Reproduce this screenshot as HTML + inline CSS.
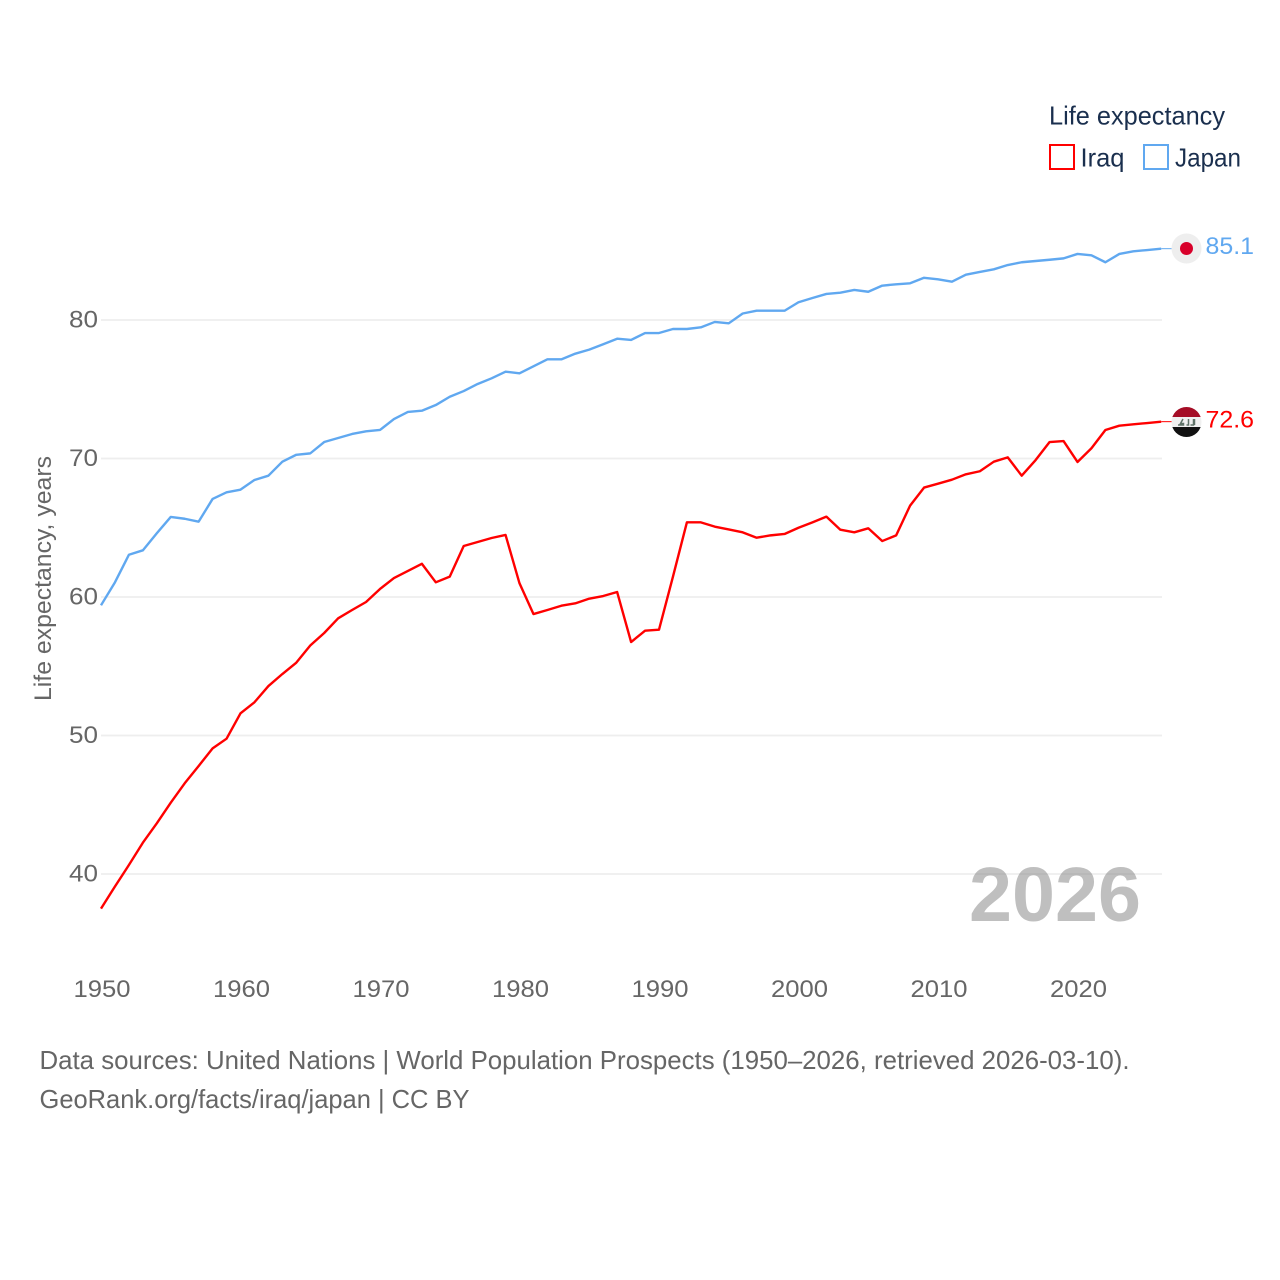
<!DOCTYPE html>
<html lang="en">
<head>
<meta charset="utf-8">
<title>Life expectancy: Iraq and Japan</title>
<style>
html,body{margin:0;padding:0;background:#fff;}
svg{display:block;}
text{font-family:"Liberation Sans","DejaVu Sans",sans-serif;}
</style>
</head>
<body>
<svg id="chart" xmlns="http://www.w3.org/2000/svg" width="1280" height="1280" viewBox="0 0 1280 1280">
<rect width="1280" height="1280" fill="#fff"/>
<g id="grid"></g>
<g id="yticks"></g>
<g id="xticks"></g>
<text transform="translate(51,701) rotate(-90)" font-size="24" fill="#666" textLength="245" lengthAdjust="spacingAndGlyphs">Life expectancy, years</text>
<text x="969" y="921" font-size="77" font-weight="700" fill="#808080" fill-opacity="0.5" textLength="172" lengthAdjust="spacingAndGlyphs">2026</text>
<g id="series"></g>
<g id="ends"></g>
<defs>
<clipPath id="iraq-clip"><circle cx="1186.5" cy="422" r="15"/></clipPath>
</defs>
<g>
<circle cx="1186.5" cy="248.5" r="15" fill="#eeeeee"/>
<circle cx="1186.5" cy="248.5" r="6.5" fill="#d8002a"/>
</g>
<g clip-path="url(#iraq-clip)">
<rect x="1171" y="406" width="31" height="11" fill="#a50d26"/>
<rect x="1171" y="417" width="31" height="10" fill="#f0f0f0"/>
<rect x="1171" y="427" width="31" height="11" fill="#111"/>
<path d="M1178 425h5.500v-1.500h-3l2.500-4.500M1186.500 425h2v-6M1190.500 425h3v-6M1194.500 425v-6" fill="none" stroke="#5f7268" stroke-width="1.500"/>
</g>
<g>
<text x="1049" y="124.500" font-size="26" fill="#1a2f4e" textLength="176" lengthAdjust="spacingAndGlyphs">Life expectancy</text>
<g>
<rect x="1050" y="145" width="24" height="24" fill="none" stroke="#ff0000" stroke-width="2"/>
<text x="1080.500" y="166.500" font-size="26" fill="#1a2f4e" textLength="44" lengthAdjust="spacingAndGlyphs">Iraq</text>
</g>
<g>
<rect x="1144" y="145" width="24" height="24" fill="none" stroke="#60a8f0" stroke-width="2"/>
<text x="1175" y="166.500" font-size="26" fill="#1a2f4e" textLength="66" lengthAdjust="spacingAndGlyphs">Japan</text>
</g>
</g>
<text x="39.500" y="1069" font-size="26" fill="#666" textLength="1090" lengthAdjust="spacingAndGlyphs">Data sources: United Nations | World Population Prospects (1950–2026, retrieved 2026-03-10).</text>
<text x="39.500" y="1108" font-size="26" fill="#666" textLength="430" lengthAdjust="spacingAndGlyphs">GeoRank.org/facts/iraq/japan | CC BY</text>
</svg>
<script>
const startYear = 1950;
const yTickValues = [40, 50, 60, 70, 80];
const xTickValues = [1950, 1960, 1970, 1980, 1990, 2000, 2010, 2020];
const iraqValues = [37.5,39.1,40.65,42.26,43.66,45.15,46.55,47.8,49.07,49.77,51.6,52.4,53.57,54.44,55.26,56.5,57.4,58.46,59.06,59.64,60.58,61.37,61.88,62.4,61.06,61.47,63.68,63.97,64.26,64.48,60.99,58.77,59.06,59.37,59.54,59.88,60.07,60.36,56.75,57.57,57.64,61.47,65.39,65.39,65.08,64.88,64.67,64.28,64.45,64.55,65.0,65.39,65.8,64.86,64.67,64.96,64.04,64.45,66.6,67.9,68.18,68.47,68.86,69.08,69.77,70.08,68.76,69.89,71.19,71.26,69.75,70.74,72.06,72.37,72.47,72.56,72.66];
const japanValues = [59.4,61.06,63.05,63.37,64.6,65.78,65.65,65.44,67.08,67.56,67.75,68.45,68.76,69.77,70.27,70.37,71.19,71.48,71.77,71.96,72.06,72.85,73.36,73.45,73.86,74.46,74.87,75.38,75.79,76.27,76.15,76.66,77.16,77.16,77.57,77.86,78.25,78.65,78.56,79.06,79.06,79.35,79.35,79.47,79.86,79.76,80.47,80.67,80.67,80.67,81.28,81.59,81.88,81.97,82.17,82.04,82.48,82.58,82.65,83.05,82.94,82.77,83.27,83.47,83.66,83.97,84.17,84.26,84.35,84.45,84.77,84.67,84.17,84.77,84.96,85.05,85.15];
const iraqEndLabel = "72.6";
const japanEndLabel = "85.1";

const NS = 'http://www.w3.org/2000/svg';
const xScale = function (year) { return 101 + (year - 1950) * 13.95; };
const yScale = function (value) { return 320 + (80 - value) * 13.85; };
const gridGroup = document.getElementById('grid');
const yTickGroup = document.getElementById('yticks');
const xTickGroup = document.getElementById('xticks');
const seriesGroup = document.getElementById('series');
const endGroup = document.getElementById('ends');

yTickValues.forEach(function (value) {
  const line = document.createElementNS(NS, 'line');
  
  
  line.setAttribute('x1', 101);
  line.setAttribute('x2', 1162);
  line.setAttribute('y1', yScale(value));
  line.setAttribute('y2', yScale(value));
  line.setAttribute('stroke', '#eeeeee');
  line.setAttribute('stroke-width', '1.8');
  gridGroup.appendChild(line);

  const label = document.createElementNS(NS, 'text');
  
  
  label.setAttribute('x', 98);
  label.setAttribute('y', yScale(value) + 7.5);
  label.setAttribute('text-anchor', 'end');
  label.setAttribute('font-size', '24');
  label.setAttribute('fill', '#666');
  label.setAttribute('textLength', '29');
  label.setAttribute('lengthAdjust', 'spacingAndGlyphs');
  label.textContent = String(value);
  yTickGroup.appendChild(label);
});

xTickValues.forEach(function (year) {
  const label = document.createElementNS(NS, 'text');
  
  
  label.setAttribute('x', xScale(year) + 1);
  label.setAttribute('y', 997);
  label.setAttribute('text-anchor', 'middle');
  label.setAttribute('font-size', '24');
  label.setAttribute('fill', '#666');
  label.setAttribute('textLength', '57');
  label.setAttribute('lengthAdjust', 'spacingAndGlyphs');
  label.textContent = String(year);
  xTickGroup.appendChild(label);
});

function pointsFor(values) {
  return values.map(function (value, index) {
    return xScale(startYear + index).toFixed(2) + ',' + yScale(value).toFixed(2);
  }).join(' ');
}

const iraqLine = document.createElementNS(NS, 'polyline');


iraqLine.setAttribute('points', pointsFor(iraqValues));
iraqLine.setAttribute('fill', 'none');
iraqLine.setAttribute('stroke', '#ff0000');
iraqLine.setAttribute('stroke-width', '2.4');
iraqLine.setAttribute('stroke-linejoin', 'round');
seriesGroup.appendChild(iraqLine);

const japanLine = document.createElementNS(NS, 'polyline');


japanLine.setAttribute('points', pointsFor(japanValues));
japanLine.setAttribute('fill', 'none');
japanLine.setAttribute('stroke', '#60a8f0');
japanLine.setAttribute('stroke-width', '2.4');
japanLine.setAttribute('stroke-linejoin', 'round');
seriesGroup.appendChild(japanLine);

const lastIndex = iraqValues.length - 1;
const lastX = xScale(startYear + lastIndex);

const iraqLeader = document.createElementNS(NS, 'line');


iraqLeader.setAttribute('x1', lastX);
iraqLeader.setAttribute('x2', lastX + 12);
iraqLeader.setAttribute('y1', yScale(iraqValues[lastIndex]));
iraqLeader.setAttribute('y2', yScale(iraqValues[lastIndex]));
iraqLeader.setAttribute('stroke', '#ff0000');
iraqLeader.setAttribute('stroke-width', '1');
endGroup.appendChild(iraqLeader);

const japanLeader = document.createElementNS(NS, 'line');


japanLeader.setAttribute('x1', lastX);
japanLeader.setAttribute('x2', lastX + 12);
japanLeader.setAttribute('y1', yScale(japanValues[lastIndex]));
japanLeader.setAttribute('y2', yScale(japanValues[lastIndex]));
japanLeader.setAttribute('stroke', '#60a8f0');
japanLeader.setAttribute('stroke-width', '1');
endGroup.appendChild(japanLeader);

const iraqEnd = document.createElementNS(NS, 'text');


iraqEnd.setAttribute('x', 1205.5);
iraqEnd.setAttribute('y', yScale(iraqValues[lastIndex]) + 5.8);
iraqEnd.setAttribute('font-size', '24');
iraqEnd.setAttribute('fill', '#ff0000');
iraqEnd.setAttribute('textLength', '48.5');
iraqEnd.setAttribute('lengthAdjust', 'spacingAndGlyphs');
iraqEnd.textContent = iraqEndLabel;
endGroup.appendChild(iraqEnd);

const japanEnd = document.createElementNS(NS, 'text');


japanEnd.setAttribute('x', 1205.5);
japanEnd.setAttribute('y', yScale(japanValues[lastIndex]) + 5.3);
japanEnd.setAttribute('font-size', '24');
japanEnd.setAttribute('fill', '#60a8f0');
japanEnd.setAttribute('textLength', '48.5');
japanEnd.setAttribute('lengthAdjust', 'spacingAndGlyphs');
japanEnd.textContent = japanEndLabel;
endGroup.appendChild(japanEnd);
</script>
</body>
</html>
